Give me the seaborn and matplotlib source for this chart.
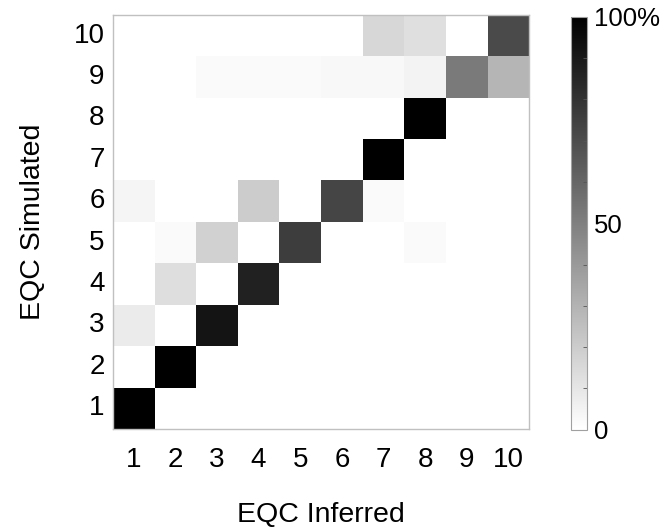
import numpy as np
import pandas as pd
import seaborn as sns
import matplotlib
matplotlib.use("Agg")
import matplotlib.pyplot as plt
from matplotlib.colors import LinearSegmentedColormap
from matplotlib.ticker import FixedLocator

inferred = ["1", "2", "3", "4", "5", "6", "7", "8", "9", "10"]
simulated = ["10", "9", "8", "7", "6", "5", "4", "3", "2", "1"]  # top to bottom

# percentage values, rows = simulated (top: 10 ... bottom: 1), cols = inferred 1..10
row_10 = [0, 0, 0, 0, 0, 0, 16, 12.5, 0, 71]
row_9 = [0, 0, 2, 2, 2, 3, 3, 5, 52, 29]
row_8 = [0, 0, 0, 0, 0, 0, 0, 100, 0, 0]
row_7 = [0, 0, 0, 0, 0, 0, 100, 0, 0, 0]
row_6 = [4, 0, 0, 20, 0, 73, 2, 0, 0, 0]
row_5 = [0, 2, 18, 0, 76, 0, 0, 2, 0, 0]
row_4 = [0, 13, 0, 87, 0, 0, 0, 0, 0, 0]
row_3 = [8, 0, 92, 0, 0, 0, 0, 0, 0, 0]
row_2 = [0, 100, 0, 0, 0, 0, 0, 0, 0, 0]
row_1 = [100, 0, 0, 0, 0, 0, 0, 0, 0, 0]

df = pd.DataFrame([row_10, row_9, row_8, row_7, row_6, row_5, row_4, row_3, row_2, row_1],
                  index=simulated, columns=inferred)

plt.rcParams['font.family'] = ['Liberation Sans', 'DejaVu Sans']

fig = plt.figure(figsize=(6.6, 5.29), dpi=100)
ax = fig.add_axes([0.171, 0.189, 0.631, 0.783])
cax = fig.add_axes([0.865, 0.188, 0.024, 0.780])

cmap = LinearSegmentedColormap.from_list("wb", ["#ffffff", "#000000"])
sns.heatmap(df, ax=ax, cbar_ax=cax, cmap=cmap, vmin=0, vmax=100, square=False)

ax.tick_params(axis='y', length=0, labelsize=20, pad=6)
ax.tick_params(axis='x', length=0, labelsize=20, pad=13)
ax.set_yticklabels(simulated, rotation=0)
ax.set_xticklabels(inferred, rotation=0)
ax.set_xlabel("EQC Inferred", fontsize=20.5, labelpad=21)
ax.set_ylabel("EQC Simulated", fontsize=20.5, labelpad=20)
for s in ax.spines.values():
    s.set_visible(True)
    s.set_color("#c0c0c0")
    s.set_linewidth(1)

cb = ax.collections[0].colorbar
cb.set_ticks([0, 50, 100])
cb.set_ticklabels(["0", "50", "100%"])
cb.outline.set_edgecolor("#a0a0a0")
cb.outline.set_linewidth(0.8)
cax.tick_params(labelsize=18.5, length=0, pad=5)
cax.yaxis.set_minor_locator(FixedLocator(np.arange(10, 100, 10)))
cax.tick_params(which='minor', length=3, direction='in', color='#555555', width=0.6)

fig.savefig("out.png", dpi=100)
